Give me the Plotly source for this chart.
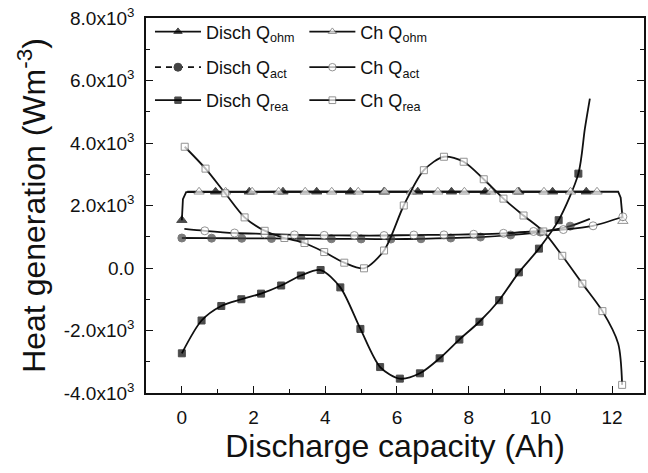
import plotly.graph_objects as go

# ---------------- data ----------------
# Discharge Q_rea (filled squares) – marked points, plus unmarked curve end
DISCH_REA_X = [0.00, 0.55, 1.10, 1.66, 2.21, 2.77, 3.32, 3.87, 4.42, 4.98, 5.53,
               6.08, 6.64, 7.19, 7.74, 8.30, 8.85, 9.40, 9.96, 10.51, 11.06]
DISCH_REA_Y = [-2730, -1680, -1215, -1000, -820, -560, -240, -65, -620, -1950, -3170,
               -3540, -3370, -2890, -2290, -1720, -1030, -140, 620, 1530, 3020]
DISCH_REA_TAIL_X = [11.24, 11.38]
DISCH_REA_TAIL_Y = [4450, 5420]

# Charge Q_rea (open squares)
CH_REA_X = [0.08, 0.66, 1.21, 1.75, 2.31, 2.86, 3.42, 3.97, 4.53, 5.08, 5.64, 6.19,
            6.75, 7.31, 7.86, 8.42, 8.97, 9.53, 10.08, 10.61, 11.17, 11.73, 12.28]
CH_REA_Y = [3880, 3180, 2390, 1620, 1190, 960, 800, 510, 170, -10, 560, 2000,
            3130, 3560, 3400, 2840, 2220, 1680, 1170, 390, -500, -1380, -3740]
CH_REA_TAIL_X = [12.17]
CH_REA_TAIL_Y = [-2420]

# Discharge Q_ohm (filled triangles)
DISCH_OHM_X = [0.00, 0.94, 1.88, 2.82, 3.76, 4.70, 5.64, 6.58, 7.52, 8.46, 9.40, 10.34, 11.28]
DISCH_OHM_Y = [1530, 2440, 2440, 2440, 2440, 2440, 2440, 2440, 2440, 2440, 2440, 2440, 2440]
DISCH_OHM_TAIL_X = [0.03, 0.12, 11.38]
DISCH_OHM_TAIL_Y = [2200, 2430, 2440]

# Charge Q_ohm (open triangles)
CH_OHM_X = [0.48, 1.22, 1.96, 2.70, 3.44, 4.18, 4.92, 5.66, 6.40, 7.14, 7.88, 8.62,
            9.36, 10.10, 10.84, 11.58, 12.30]
CH_OHM_Y = [2440, 2440, 2440, 2440, 2440, 2440, 2440, 2440, 2440, 2440, 2440, 2440,
            2440, 2440, 2440, 2440, 1500]
CH_OHM_TAIL_X = [0.15, 12.17, 12.24, 12.27]
CH_OHM_TAIL_Y = [2440, 2440, 2250, 1700]

# Discharge Q_act (filled circles)
DISCH_ACT_X = [0.00, 0.83, 1.67, 2.50, 3.33, 4.17, 5.00, 5.83, 6.67, 7.50, 8.33, 9.17, 10.00, 10.83]
DISCH_ACT_Y = [960, 955, 950, 945, 940, 935, 930, 925, 935, 960, 990, 1055, 1150, 1340]
DISCH_ACT_TAIL_X = [11.38]
DISCH_ACT_TAIL_Y = [1570]

# Charge Q_act (open circles)
CH_ACT_X = [0.64, 1.47, 2.31, 3.14, 3.97, 4.81, 5.64, 6.47, 7.31, 8.14, 8.97, 9.81,
            10.64, 11.47, 12.30]
CH_ACT_Y = [1190, 1120, 1090, 1060, 1045, 1040, 1040, 1055, 1060, 1080, 1110, 1170,
            1230, 1350, 1640]
CH_ACT_TAIL_X = [0.07]
CH_ACT_TAIL_Y = [1250]

X_TICKS = [0, 2, 4, 6, 8, 10, 12]
Y_TICKS = [-4000, -2000, 0, 2000, 4000, 6000, 8000]
Y_TICK_TEXT = ["-4.0x10<sup>3</sup>", "-2.0x10<sup>3</sup>", "0.0", "2.0x10<sup>3</sup>",
               "4.0x10<sup>3</sup>", "6.0x10<sup>3</sup>", "8.0x10<sup>3</sup>"]

FONT = "Arial, Liberation Sans, sans-serif"
INK = "#111111"


def label(prefix, sub):
    return f'{prefix} Q<sub style="font-size:15px">{sub}</sub>'


def merged(mx, my, tx, ty):
    pts = [(x, y, True) for x, y in zip(mx, my)] + [(x, y, False) for x, y in zip(tx, ty)]
    pts.sort(key=lambda p: p[0])
    return [p[0] for p in pts], [p[1] for p in pts], [p[2] for p in pts]


fig = go.Figure()


def add_series(name, mx, my, tx, ty, symbol, fill, edge, size, shape, legend, showleg=True):
    x, y, mark = merged(mx, my, tx, ty)
    sizes = [size if m else 0 for m in mark]
    fig.add_trace(go.Scatter(
        x=x, y=y, mode="lines+markers", name=name,
        line=dict(color=INK, width=1.8, shape=shape, smoothing=0.8 if shape == "spline" else None),
        marker=dict(symbol=symbol, size=sizes, color=fill,
                    line=dict(color=edge, width=1)),
        legend=legend, showlegend=showleg,
    ))


add_series(label("Disch", "ohm"), DISCH_OHM_X, DISCH_OHM_Y, DISCH_OHM_TAIL_X, DISCH_OHM_TAIL_Y,
           "triangle-up", "#000000", "#000000", 9, "linear", "legend")
add_series(label("Disch", "act"), DISCH_ACT_X, DISCH_ACT_Y, DISCH_ACT_TAIL_X, DISCH_ACT_TAIL_Y,
           "circle", "#444444", "#444444", 8, "spline", "legend3", showleg=False)
# legend sample for the dashed Disch Q_act entry
fig.add_trace(go.Scatter(
    x=[None], y=[None], mode="lines+markers", name=label("Disch", "act"),
    line=dict(color=INK, width=1.8, dash="6px,5px"),
    marker=dict(symbol="circle", size=8, color="#444444", line=dict(color="#444444", width=1)),
    legend="legend3"))
add_series(label("Disch", "rea"), DISCH_REA_X, DISCH_REA_Y, DISCH_REA_TAIL_X, DISCH_REA_TAIL_Y,
           "square", "#000000", "#000000", 7, "spline", "legend5")
add_series(label("Ch", "ohm"), CH_OHM_X, CH_OHM_Y, CH_OHM_TAIL_X, CH_OHM_TAIL_Y,
           "triangle-up", "#ffffff", "#666666", 9, "linear", "legend2")
add_series(label("Ch", "act"), CH_ACT_X, CH_ACT_Y, CH_ACT_TAIL_X, CH_ACT_TAIL_Y,
           "circle", "#ffffff", "#666666", 8, "spline", "legend4")
add_series(label("Ch", "rea"), CH_REA_X, CH_REA_Y, CH_REA_TAIL_X, CH_REA_TAIL_Y,
           "square", "#ffffff", "#666666", 7, "spline", "legend6")

legend_common = dict(
    bgcolor="rgba(0,0,0,0)", borderwidth=0, font=dict(family=FONT, size=18, color=INK),
    itemwidth=46, orientation="v", yanchor="middle", xanchor="left", tracegroupgap=0,
    itemclick=False, itemdoubleclick=False,
)
COL_X = [0.008, 0.318]
ROW_Y = [0.963, 0.868, 0.780]

legends = {}
for r in range(3):
    for c in range(2):
        key = "legend" if (r == 0 and c == 0) else f"legend{r * 2 + c + 1}"
        legends[key] = dict(x=COL_X[c], y=ROW_Y[r], **legend_common)

fig.update_layout(
    width=648, height=473,
    margin=dict(l=146, r=2, t=18, b=80),
    paper_bgcolor="white", plot_bgcolor="white",
    font=dict(family=FONT, color=INK),
    **legends,
    xaxis=dict(
        range=[-1.0, 12.89], tickmode="array", tickvals=X_TICKS,
        ticks="inside", ticklen=7, tickwidth=1.3, tickcolor=INK,
        showline=True, linecolor=INK, linewidth=1.5, mirror=True,
        showgrid=False, zeroline=False,
        tickfont=dict(family=FONT, size=19, color=INK), ticklabelstandoff=6,
        minor=dict(dtick=1, tick0=0, ticks="inside", ticklen=4, tickcolor=INK, showgrid=False),
        title=dict(text="Discharge capacity (Ah)", font=dict(family=FONT, size=32, color=INK),
                   standoff=4),
    ),
    yaxis=dict(
        range=[-4000, 8000], tickmode="array", tickvals=Y_TICKS, ticktext=Y_TICK_TEXT,
        ticks="inside", ticklen=7, tickwidth=1.3, tickcolor=INK,
        showline=True, linecolor=INK, linewidth=1.5, mirror="ticks",
        showgrid=False, zeroline=False,
        tickfont=dict(family=FONT, size=19, color=INK), ticklabelstandoff=6,
        minor=dict(dtick=1000, tick0=0, ticks="inside", ticklen=4, tickcolor=INK, showgrid=False),
        title=dict(text="Heat generation (Wm<sup>-3</sup>)", font=dict(family=FONT, size=32, color=INK),
                   standoff=8),
    ),
)

fig.write_html("out.html")
